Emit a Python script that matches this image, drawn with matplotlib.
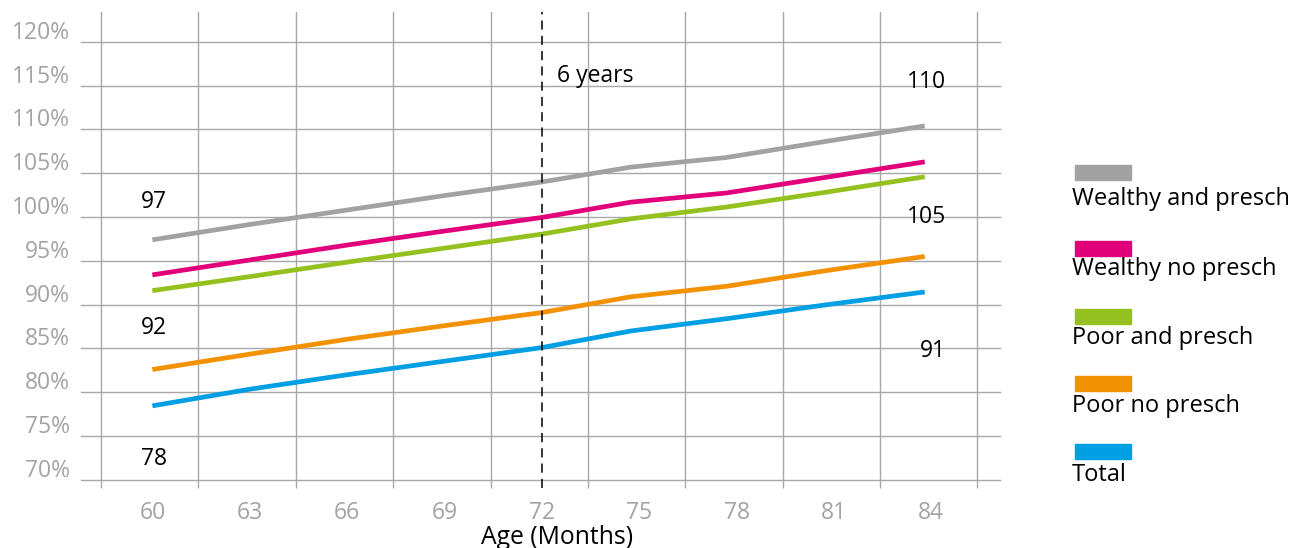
import matplotlib
matplotlib.use('Agg')
import matplotlib.pyplot as plt
import matplotlib.patches as mpatches
from matplotlib.transforms import offset_copy, blended_transform_factory
import numpy as np

plt.rcParams['font.family'] = ['Open Sans', 'DejaVu Sans']

# ── data ────────────────────────────────────────────────────────────────
ages = [60, 63, 66, 69, 72, 74.75, 77.7, 80.7, 83.8]
wealthy_presch    = [97.4, 99.15, 100.8, 102.45, 104.0, 105.7, 106.8, 108.6, 110.4]
wealthy_no_presch = [93.4, 95.1, 96.8, 98.4, 99.95, 101.7, 102.75, 104.5, 106.3]
poor_presch       = [91.6, 93.2, 94.85, 96.45, 98.05, 99.8, 101.15, 102.8, 104.6]
poor_no_presch    = [82.6, 84.35, 86.05, 87.6, 89.1, 90.9, 92.1, 93.85, 95.5]
total             = [78.45, 80.35, 82.0, 83.55, 85.1, 87.0, 88.4, 89.95, 91.45]

series_names = ['Wealthy and presch', 'Wealthy no presch', 'Poor and presch',
                'Poor no presch', 'Total']
series = [wealthy_presch, wealthy_no_presch, poor_presch, poor_no_presch, total]
x_ticks = [60, 63, 66, 69, 72, 75, 78, 81, 84]
y_ticks = [70, 75, 80, 85, 90, 95, 100, 105, 110, 115, 120]
marker_age = 72
marker_text = '6 years'

# ── style ───────────────────────────────────────────────────────────────
COLORS = ['#a2a2a2', '#e2007a', '#95c11f', '#f39200', '#009fe3']
GRID = '#a8a8a8'
TICK = '#a3a3a3'
FS = 16.5

W, H = 1308, 548
fig = plt.figure(figsize=(W / 100, H / 100), dpi=100)
ax = fig.add_axes([81 / W, 68.1 / H, 919 / W, 467.9 / H])

for vals, c in zip(series, COLORS):
    ax.plot(ages, vals, color=c, lw=3.4, solid_capstyle='butt', zorder=3)

ax.set_xlim(57.8, 86.12)
ax.set_ylim(70, 123.4)

# vertical grid sits between the labelled months, poking below the axis
ax.set_xticks(x_ticks)
ax.set_xticklabels([str(t) for t in x_ticks], fontsize=FS, color=TICK)
ax.set_xticks(np.arange(58.42, 86, 3), minor=True)
ax.tick_params(axis='x', which='major', length=0, pad=15)
ax.tick_params(axis='x', which='minor', length=5.6, width=1.0,
               color=GRID, direction='out')
ax.grid(axis='x', which='minor', color=GRID, lw=1.0, zorder=0)

ax.set_yticks(y_ticks)
ax.set_yticklabels([])
ax.tick_params(axis='y', length=0)
ax.grid(axis='y', which='major', color=GRID, lw=1.0, zorder=0)
ax.set_axisbelow(True)
for s in ax.spines.values():
    s.set_visible(False)
# keep the 70% line whole at the bottom edge
for gl in ax.get_ygridlines():
    gl.set_clip_on(False)

ytrans = offset_copy(blended_transform_factory(ax.transAxes, ax.transData),
                     fig=fig, x=-11, y=9, units='dots')
for v in y_ticks:
    ax.text(0, v, f'{v}%', transform=ytrans, ha='right', va='center',
            fontsize=FS, color=TICK)

# 6 years marker
ax.axvline(marker_age, ymin=-0.0167, ymax=1, color='black', lw=1.1,
           ls=(0, (6, 4)), clip_on=False, zorder=4)
ax.text(marker_age + 0.46, 115.46, marker_text, fontsize=FS, color='black',
        ha='left', va='baseline')

# start / end values for three of the series
label_pos = {0: (101.7, 115.4), 2: (87.3, 100.0), 4: (72.4, 84.7)}
for i, (y0, y1) in label_pos.items():
    ax.text(60.05, y0, f'{series[i][0]:.0f}', fontsize=FS, color='black',
            ha='center', va='center')
    ax.text(84.46, y1, f'{series[i][-1]:.0f}', fontsize=FS, color='black',
            ha='right', va='center')

fig.text(557 / W, 1 - 537 / H, 'Age (Months)', fontsize=17.8, color='black',
         ha='center', va='center')

# legend: colour swatch above each name
patch_tops = [165, 241, 309, 376, 444]
baselines = [205, 275, 344, 411.7, 480.7]
for name, c, pt, bl in zip(series_names, COLORS, patch_tops, baselines):
    fig.patches.append(mpatches.Rectangle((1075 / W, 1 - (pt + 15) / H),
                                          56 / W, 15 / H, color=c,
                                          transform=fig.transFigure))
    fig.text(1071.7 / W, 1 - bl / H, name, fontsize=FS + 0.5, color='black',
             ha='left', va='baseline')

fig.savefig('out.png', dpi=100)
